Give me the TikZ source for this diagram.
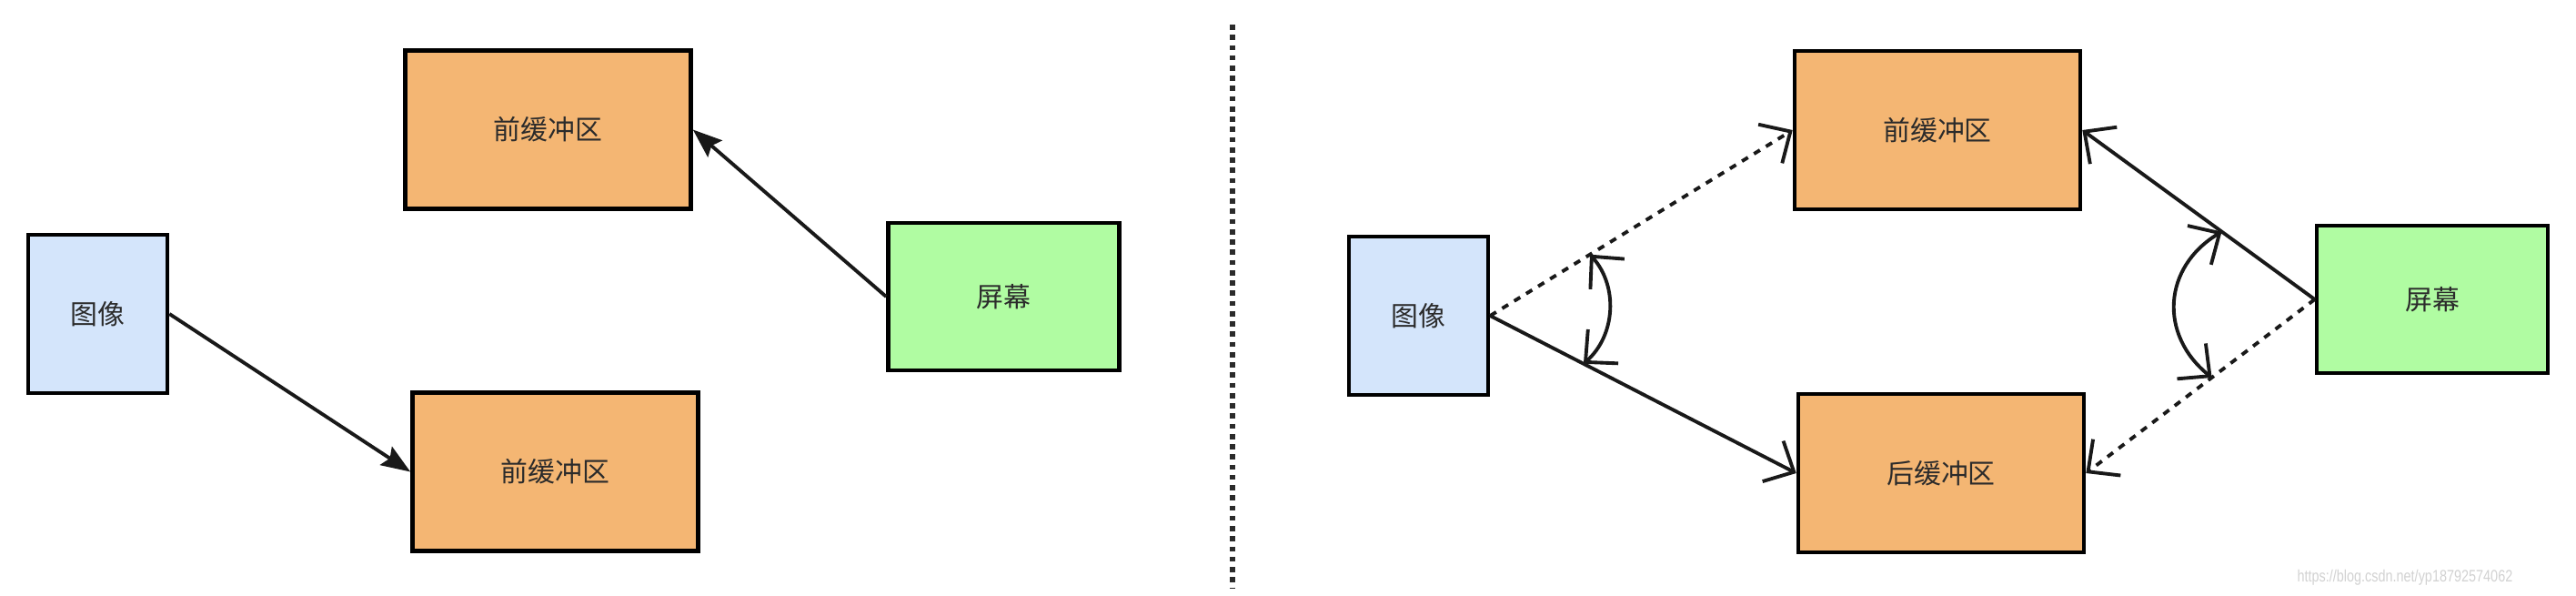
\documentclass[tikz,border=0pt]{standalone}
\usepackage{fontspec}
\newfontfamily\cjk{Noto Sans CJK SC}
\newfontfamily\wmfont{Liberation Sans}
\usetikzlibrary{arrows.meta}

\definecolor{imgblue}{HTML}{D4E5FB}
\definecolor{buforange}{HTML}{F4B673}
\definecolor{scrgreen}{HTML}{B0FCA2}
\definecolor{ink}{HTML}{2B2B2B}

\tikzset{
  box/.style = {draw=black, line width=1.3pt, text=ink, inner sep=0pt,
                font=\cjk\fontsize{8.5}{10}\selectfont},
  img/.style = {box, fill=imgblue, minimum width=1.53cm, minimum height=1.74cm},
  buf/.style = {box, fill=buforange, minimum width=3.14cm, minimum height=1.74cm},
  scr/.style = {box, fill=scrgreen, minimum width=2.54cm, minimum height=1.62cm},
  link/.style = {draw=black!90, line width=1.1pt},
  solidtip/.style = {link, -{Stealth[length=0.32cm, width=0.24cm, inset=0.05cm]}},
  opentip/.style = {link, -{Straight Barb[length=0.26cm, width=0.5cm]}},
  bothway/.style = {link, {Straight Barb[length=0.26cm, width=0.5cm]}-{Straight Barb[length=0.26cm, width=0.5cm]}},
  dots/.style = {dash pattern=on 2.2pt off 2.2pt}
}

\begin{document}
\begin{tikzpicture}
\fill[white] (0,0) rectangle (28.32,6.54);
\useasboundingbox (0,0) rectangle (28.32,6.54);

% single buffer
\node[img] (img1) at (1.075,3.09) {图像};
\node[buf] (front1) at (6.025,5.115) {前缓冲区};
\node[buf] (front2) at (6.105,1.355) {前缓冲区};
\node[scr] (screen1) at (11.035,3.28) {屏幕};
\draw[solidtip] (img1.east) -- (front2.west);
\draw[solidtip] (screen1.west) -- (front1.east);

\draw[ink, line width=1.5pt, dash pattern=on 1.6pt off 1.6pt] (13.55,6.27) -- (13.55,0.07);

% double buffer
\node[img] (img2) at (15.595,3.07) {图像};
\node[buf] (front) at (21.30,5.11) {前缓冲区};
\node[buf] (back) at (21.34,1.34) {后缓冲区};
\node[scr] (screen2) at (26.74,3.25) {屏幕};
\draw[opentip, dots] (img2.east) -- coordinate[pos=0.33] (l1) (front.west);
\draw[opentip] (img2.east) -- coordinate[pos=0.305] (l2) (back.west);
\draw[opentip] (screen2.west) -- coordinate[pos=0.40] (r1) (front.east);
\draw[opentip, dots] (screen2.west) -- coordinate[pos=0.45] (r2) (back.east);
\draw[bothway] (l1) to[bend left=45] (l2);
\draw[bothway] (r1) to[bend right=55, looseness=1.2] (r2);

\node[anchor=east, inner sep=0pt, text=gray!35, font=\wmfont\fontsize{5.2}{6}\selectfont] (wm) at (27.63,0.19)
  {\scalebox{0.79}[1]{https://blog.csdn.net/yp18792574062}};
\end{tikzpicture}
\end{document}
